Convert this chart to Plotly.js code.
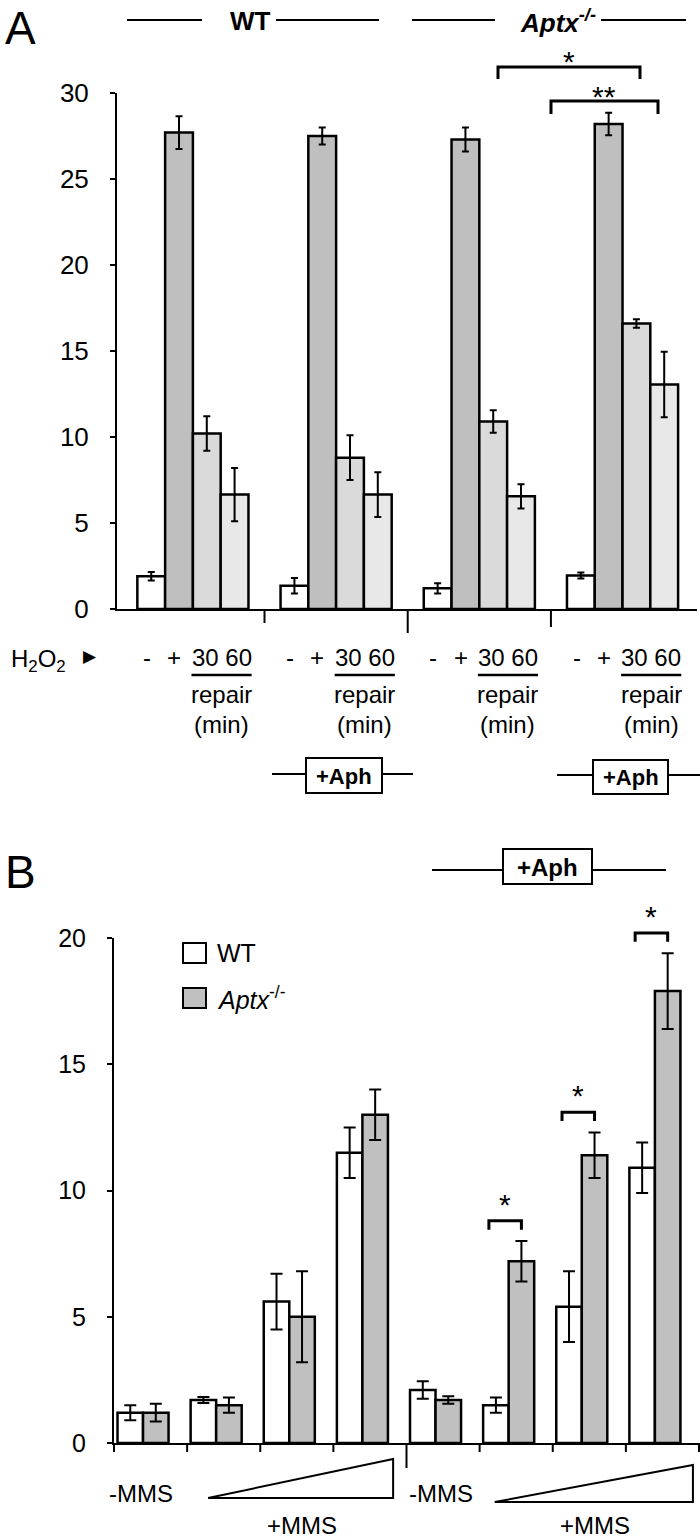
<!DOCTYPE html>
<html><head><meta charset="utf-8">
<script src="https://cdn.plot.ly/plotly-3.0.1.min.js"></script>
<style>html,body{margin:0;padding:0;background:#fff}#chart{width:700px;height:1538px}</style>
</head><body><div id="chart"></div>
<script>
// ---------- Panel A data ----------
const groupsA = ['WT', 'WT +Aph', 'Aptx-/-', 'Aptx-/- +Aph'];
const conditionsA = ['-', '+', '30', '60'];
const untreatedA = [1.9, 1.35, 1.2, 1.95];
const untreatedErrA = [0.25, 0.45, 0.3, 0.17];
const h2o2A = [27.7, 27.5, 27.3, 28.2];
const h2o2ErrA = [0.95, 0.5, 0.7, 0.65];
const repair30A = [10.2, 8.8, 10.9, 16.6];
const repair30ErrA = [1.0, 1.3, 0.65, 0.25];
const repair60A = [6.65, 6.65, 6.55, 13.05];
const repair60ErrA = [1.55, 1.3, 0.7, 1.9];
const yTicksA = [0, 5, 10, 15, 20, 25, 30];

// ---------- Panel B data ----------
const groupsB = ['-MMS', 'MMS low', 'MMS mid', 'MMS high', '-MMS +Aph', 'MMS low +Aph', 'MMS mid +Aph', 'MMS high +Aph'];
const seriesB = ['WT', 'Aptx-/-'];
const wtB = [1.2, 1.7, 5.6, 11.5, 2.1, 1.5, 5.4, 10.9];
const wtErrB = [0.3, 0.12, 1.1, 1.0, 0.35, 0.3, 1.4, 1.0];
const aptxB = [1.2, 1.5, 5.0, 13.0, 1.7, 7.2, 11.4, 17.9];
const aptxErrB = [0.35, 0.3, 1.8, 1.0, 0.15, 0.8, 0.9, 1.5];
const yTicksB = [0, 5, 10, 15, 20];
const sigB = [5, 6, 7]; // groups marked with *

// ---------- geometry helpers ----------
const W = 700, H = 1538;
const PX = x => x / W;
const PY = y => 1 - y / H;
const FONT = 'Liberation Sans, Arial, sans-serif';

const domAx = [117 / W, 697 / W], rangeAx = [-0.53, 3.52];
const domAy = [PY(609), PY(93)], rangeAy = [0, 30];
const domBx = [114 / W, 699 / W], rangeBx = [-0.397, 7.603];
const domBy = [PY(1443), PY(938)], rangeBy = [0, 20];
const xA = groupsA.map((_, i) => i);
const xB = groupsB.map((_, i) => i);
const toPaper = (v, dom, rng) => dom[0] + (v - rng[0]) / (rng[1] - rng[0]) * (dom[1] - dom[0]);
const bxP = v => toPaper(v, domBx, rangeBx);
const byP = v => toPaper(v, domBy, rangeBy);
const axP = v => toPaper(v, domAx, rangeAx);

const colorsA = ['#ffffff', '#bfbfbf', '#dadada', '#e8e8e8'];
const valsA = [untreatedA, h2o2A, repair30A, repair60A];
const errsA = [untreatedErrA, h2o2ErrA, repair30ErrA, repair60ErrA];
const bwA = 0.194;
const colorsB = ['#ffffff', '#c0c0c0'];
const valsB = [wtB, aptxB];
const errsB = [wtErrB, aptxErrB];
const bwB = 0.349;

const traces = [];
valsA.forEach((v, k) => traces.push({
  type: 'bar', x: xA, y: v, name: conditionsA[k], xaxis: 'x', yaxis: 'y',
  width: bwA, offset: -2 * bwA + k * bwA, showlegend: false,
  marker: {color: colorsA[k], line: {color: '#000', width: 2.5}},
  error_y: {type: 'data', array: errsA[k], color: '#000', thickness: 2, width: 3.5},
  hoverinfo: 'skip'
}));
valsB.forEach((v, k) => traces.push({
  type: 'bar', x: xB, y: v, name: seriesB[k], xaxis: 'x2', yaxis: 'y2',
  width: bwB, offset: -bwB + k * bwB, showlegend: false,
  marker: {color: colorsB[k], line: {color: '#000', width: 2.5}},
  error_y: {type: 'data', array: errsB[k], color: '#000', thickness: 2, width: 6},
  hoverinfo: 'skip'
}));

const shapes = [];
const lnP = (x0, y0, x1, y1, w) => shapes.push({type: 'line', xref: 'paper', yref: 'paper',
  x0: x0, y0: y0, x1: x1, y1: y1, line: {color: '#000', width: w || 2}});
const ln = (x0, y0, x1, y1, w) => lnP(PX(x0), PY(y0), PX(x1), PY(y1), w);
const rect = (x0, y0, x1, y1, fill) => shapes.push({type: 'rect', xref: 'paper', yref: 'paper',
  x0: PX(x0), y0: PY(y0), x1: PX(x1), y1: PY(y1), fillcolor: fill || 'rgba(0,0,0,0)', line: {color: '#000', width: 2}});
const bracketP = (x0, x1, yTop, yBot, w) => shapes.push({type: 'path', xref: 'paper', yref: 'paper',
  path: `M${x0},${yBot} L${x0},${yTop} L${x1},${yTop} L${x1},${yBot}`,
  line: {color: '#000', width: w || 3}});

const ann = [];
const annP = (text, x, y, size, o) => ann.push(Object.assign({
  text: text, xref: 'paper', yref: 'paper', x: x, y: y, showarrow: false,
  xanchor: 'center', yanchor: 'middle', font: {family: FONT, size: size, color: '#000'}
}, o || {}));
const txt = (text, x, y, size, o) => annP(text, PX(x), PY(y), size, o);

// ----- Panel A header -----
txt('A', 3, 0, 46, {xanchor: 'left', yanchor: 'top'});
ln(127, 20, 202, 20); ln(276, 20, 379, 20);
txt('<b>WT</b>', 250, 21, 26);
ln(412, 20, 495, 20); ln(601, 20, 686, 20);
txt('<b><i>Aptx</i></b><sup><b><i>-/-</i></b></sup>', 558, 21, 26);
bracketP(PX(498), PX(640), PY(67), PY(79));
txt('*', 569, 61, 30);
bracketP(PX(551), PX(658), PY(101), PY(114));
txt('**', 604, 97, 30);

// ----- Panel A group separators -----
[[0.5, 14], [1.5, 24], [2.5, 18]].forEach(([v, l]) => lnP(axP(v), domAy[0], axP(v), PY(609 + l)));

// ----- Panel A below-axis labels -----
txt('H<sub>2</sub>O<sub>2</sub>', 38, 660, 24);
txt('▶', 90, 656, 17, {font: {family: 'DejaVu Sans', size: 17, color: '#000'}});
xA.forEach(i => {
  annP(conditionsA[0], axP(i - 0.32), PY(657), 24);
  annP(conditionsA[1], axP(i - 0.13), PY(657), 24);
  annP(conditionsA[2] + ' ' + conditionsA[3], axP(i + 0.2), PY(658), 24);
  lnP(axP(i - 0.01), PY(675), axP(i + 0.41), PY(675), 2.5);
  annP('repair', axP(i + 0.2), PY(694), 24);
  annP('(min)', axP(i + 0.2), PY(724), 24);
});

// ----- +Aph boxes panel A -----
ln(272, 774, 306, 774); rect(306, 758, 382, 793); ln(382, 774, 413, 774);
txt('<b>+Aph</b>', 344, 776, 22);
ln(557, 775, 593, 775); rect(593, 760, 668, 794); ln(668, 775, 700, 775);
txt('<b>+Aph</b>', 630.5, 777, 22);

// ----- Panel B header -----
txt('B', 3, 844, 46, {xanchor: 'left', yanchor: 'top'});
ln(432, 870, 503, 870); rect(503, 849, 592, 884); ln(592, 870, 666, 870);
txt('<b>+Aph</b>', 547.5, 867, 24);

// ----- Panel B legend -----
rect(183, 943, 206, 963, colorsB[0]);
txt(seriesB[0], 215, 953, 25, {xanchor: 'left'});
rect(183, 988, 206, 1008, colorsB[1]);
txt('<i>Aptx</i><sup>-/-</sup>', 215, 998, 25, {xanchor: 'left'});

// ----- Panel B separators -----
for (let k = 0; k <= 8; k++) {
  const v = rangeBx[0] + k;
  const l = k === 4 ? 25 : 9;
  lnP(bxP(v), domBy[0], bxP(v), PY(1443 + l));
}

// ----- Panel B significance brackets -----
sigB.forEach(i => {
  const top = aptxB[i] + aptxErrB[i];
  const x0 = bxP(i - bwB / 2) - PX(7), x1 = bxP(i + bwB / 2);
  bracketP(x0, x1, byP(top + 0.8), byP(top + 0.45));
  annP('*', (x0 + x1) / 2, byP(top + 1.45), 30);
});

// ----- Panel B below-axis labels -----
[[0, 0.89, 3.42, 1498, 1459, 2.17], [4.1, 4.81, 7.52, 1502, 1465, 6.18]].forEach(([lab, t0, t1, yb, yt, plus]) => {
  annP(groupsB[0], bxP(lab - 0.03), PY(1493), 24);
  shapes.push({type: 'path', xref: 'paper', yref: 'paper',
    path: `M${bxP(t0)},${PY(yb)} L${bxP(t1)},${PY(yt)} L${bxP(t1)},${PY(yb)} Z`,
    line: {color: '#000', width: 2}, fillcolor: '#fff'});
  annP('+MMS', bxP(plus), PY(1525), 24);
});

const yAxisCommon = {
  showline: true, linecolor: '#000', linewidth: 2, ticks: 'outside', ticklen: 5, tickwidth: 2,
  tickcolor: '#000', showgrid: false, zeroline: false, fixedrange: true, ticklabelstandoff: 16
};
const layout = {
  width: W, height: H, margin: {l: 0, r: 0, t: 0, b: 0},
  paper_bgcolor: '#fff', plot_bgcolor: 'rgba(0,0,0,0)', barmode: 'overlay', showlegend: false,
  font: {family: FONT, color: '#000'},
  xaxis: {domain: domAx, range: rangeAx, anchor: 'y', showline: true, linecolor: '#000', linewidth: 2,
    showticklabels: false, ticks: '', showgrid: false, zeroline: false, fixedrange: true},
  yaxis: Object.assign({domain: domAy, range: rangeAy, anchor: 'x', tickvals: yTicksA,
    tickfont: {family: FONT, size: 26, color: '#000'}}, yAxisCommon),
  xaxis2: {domain: domBx, range: rangeBx, anchor: 'y2', showline: true, linecolor: '#000', linewidth: 2,
    showticklabels: false, ticks: '', showgrid: false, zeroline: false, fixedrange: true},
  yaxis2: Object.assign({domain: domBy, range: rangeBy, anchor: 'x2', tickvals: yTicksB,
    tickfont: {family: FONT, size: 25, color: '#000'}}, yAxisCommon),
  shapes: shapes, annotations: ann
};
Plotly.newPlot('chart', traces, layout, {staticPlot: true, displayModeBar: false});
</script>
</body></html>
